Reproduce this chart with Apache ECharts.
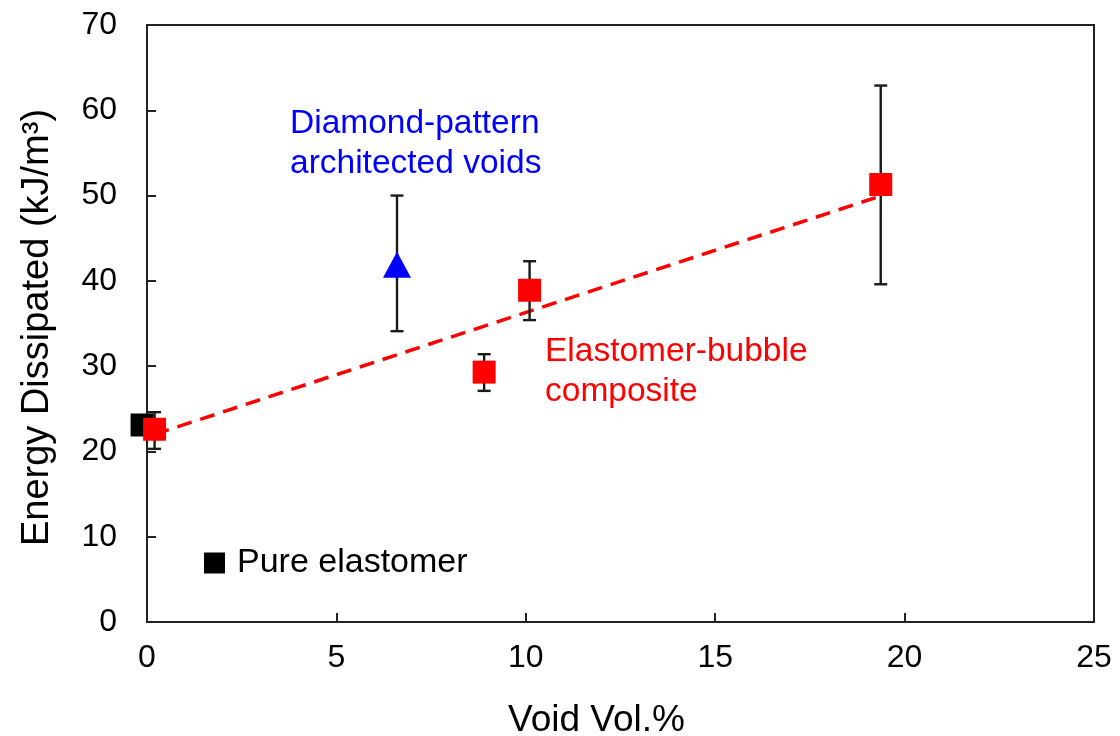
<!DOCTYPE html>
<html><head><meta charset="utf-8">
<script src="https://cdn.jsdelivr.net/npm/echarts@6/dist/echarts.min.js"></script>
<style>html,body{margin:0;padding:0;background:#fff}#c{width:1120px;height:736px}</style>
</head><body><div id="c"></div>
<script>
// Data
const pureX = [-0.13];
const pureY = [23.1];
const diamondX = [6.6];
const diamondY = [41.9];
const bubbleX = [0.2, 8.9, 10.1, 19.37];
const bubbleY = [22.6, 29.3, 38.9, 51.3];
// error bars: [x, low, high]
const errX = [0.2, 6.6, 8.9, 10.1, 19.37];
const errLow = [20.3, 34.1, 27.1, 35.4, 39.6];
const errHigh = [24.6, 50.0, 31.4, 42.3, 62.9];
const trendX = [0.2, 19.4];
const trendY = [22.0, 50.0];

const FONT = 'Liberation Sans, Arial, sans-serif';
const zip = (a, b) => a.map((v, i) => [v, b[i]]);
const errData = errX.map((x, i) => [x, errLow[i], errHigh[i]]);

const chart = echarts.init(document.getElementById('c'), null, {renderer: 'canvas'});
chart.setOption({
  animation: false,
  backgroundColor: '#fff',
  grid: {left: 147, right: 26, top: 25, bottom: 114, show: true, borderColor: '#222', borderWidth: 2,
         containLabel: false, outerBoundsMode: 'none'},
  legend: {
    data: ['Pure elastomer'], left: 199, top: 541, icon: 'rect', itemWidth: 21, itemHeight: 21, itemGap: 14,
    textStyle: {fontFamily: FONT, fontSize: 34, color: '#000', padding: [0, 0, 0, 7]}
  },
  xAxis: {
    type: 'value', min: 0, max: 25, interval: 5,
    name: 'Void Vol.%', nameLocation: 'middle', nameGap: 80,
    nameTextStyle: {fontFamily: FONT, fontSize: 37, color: '#000', padding: [0, 48, 0, 0]},
    axisLine: {lineStyle: {color: '#222', width: 2}},
    axisTick: {inside: true, length: 9, lineStyle: {color: '#222', width: 2}},
    axisLabel: {fontFamily: FONT, fontSize: 32, color: '#000', margin: 20},
    splitLine: {show: false}
  },
  yAxis: {
    type: 'value', min: 0, max: 70, interval: 10,
    name: 'Energy Dissipated (kJ/m\u00B3)', nameLocation: 'middle', nameGap: 90,
    nameTextStyle: {fontFamily: FONT, fontSize: 38, color: '#000', padding: [0, 8, 0, 0]},
    axisLine: {lineStyle: {color: '#222', width: 2}},
    axisTick: {inside: true, length: 9, lineStyle: {color: '#222', width: 2}},
    axisLabel: {fontFamily: FONT, fontSize: 32, color: '#000', margin: 30},
    splitLine: {show: false}
  },
  graphic: [
    {type: 'text', left: 290, top: 104, style: {text: 'Diamond-pattern\narchitected voids', fill: '#0000ff', font: '33.5px ' + FONT, lineHeight: 40}},
    {type: 'text', left: 545, top: 332, style: {text: 'Elastomer-bubble\ncomposite', fill: '#ff0000', font: '33.5px ' + FONT, lineHeight: 40}}
  ],
  series: [
    {
      name: 'trend', type: 'line', data: zip(trendX, trendY), symbol: 'none', silent: true,
      lineStyle: {color: '#ff0000', width: 3.5, type: [15, 9]}, z: 2
    },
    {
      name: 'err', type: 'custom', data: errData, z: 3, clip: false,
      renderItem: function (params, api) {
        const x = api.value(0);
        const lo = api.coord([x, api.value(1)]);
        const hi = api.coord([x, api.value(2)]);
        const w = 6.5;
        const style = {stroke: '#1a1a1a', lineWidth: 2.4};
        return {type: 'group', children: [
          {type: 'line', shape: {x1: lo[0], y1: lo[1], x2: hi[0], y2: hi[1]}, style: style},
          {type: 'line', shape: {x1: lo[0] - w, y1: lo[1], x2: lo[0] + w, y2: lo[1]}, style: style},
          {type: 'line', shape: {x1: hi[0] - w, y1: hi[1], x2: hi[0] + w, y2: hi[1]}, style: style}
        ]};
      },
      encode: {x: 0, y: [1, 2]}
    },
    {
      name: 'Pure elastomer', type: 'scatter', data: zip(pureX, pureY), symbol: 'rect', symbolSize: 23,
      itemStyle: {color: '#000', opacity: 1}, clip: false, z: 4
    },
    {
      name: 'Diamond', type: 'scatter', data: zip(diamondX, diamondY), symbol: 'triangle', symbolSize: [28, 26],
      itemStyle: {color: '#0000ff', opacity: 1}, z: 5
    },
    {
      name: 'Bubble', type: 'scatter', data: zip(bubbleX, bubbleY), symbol: 'rect', symbolSize: 23,
      itemStyle: {color: '#ff0000', opacity: 1}, clip: false, z: 5
    }
  ]
});
</script></body></html>
